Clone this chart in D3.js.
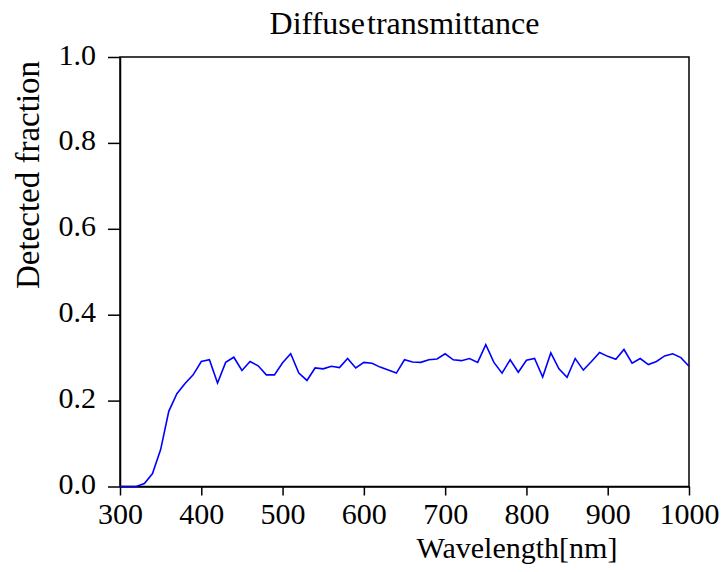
<!DOCTYPE html>
<html>
<head>
<meta charset="utf-8">
<script src="https://cdn.jsdelivr.net/npm/d3@7"></script>
<style>
  text { font-family: "Times New Roman", Times, "Liberation Serif", Tinos, serif; }
</style>
</head>
<body style="margin:0">
<svg id="chart" width="723" height="572" font-family="Times New Roman, Times, Liberation Serif, serif"></svg>
<script>
const wavelengths = d3.range(300, 1001, 10);
const detectedFraction = [
  0, 0, 0, 0.007, 0.03, 0.086, 0.175, 0.216, 0.24, 0.26,
  0.291, 0.295, 0.241, 0.289, 0.301, 0.27, 0.291, 0.281, 0.26, 0.26,
  0.288, 0.309, 0.264, 0.247, 0.276, 0.274, 0.28, 0.277, 0.298, 0.276,
  0.289, 0.287, 0.278, 0.271, 0.264, 0.295, 0.29, 0.289, 0.295, 0.297,
  0.309, 0.295, 0.293, 0.298, 0.289, 0.33, 0.289, 0.264, 0.295, 0.266,
  0.294, 0.298, 0.255, 0.311, 0.274, 0.254, 0.298, 0.271, 0.291, 0.312,
  0.303, 0.296, 0.319, 0.287, 0.298, 0.284, 0.291, 0.304, 0.309, 0.3,
  0.28
];
const xTicks = [300, 400, 500, 600, 700, 800, 900, 1000];
const yTicks = [0, 0.2, 0.4, 0.6, 0.8, 1.0];
const titleText = "Diffuse transmittance";
const xLabel = "Wavelength[nm]";
const yLabel = "Detected fraction";

const serifStack = "'Times New Roman', Times, 'Liberation Serif', Tinos, serif";
const svg = d3.select("#chart").style("display", "block");
const mLeft = 120, mRight = 689, mTop = 57, mBottom = 486.5;

const x = d3.scaleLinear().domain([300, 1000]).range([mLeft, mRight]);
const y = d3.scaleLinear().domain([0, 1]).range([mBottom, mTop]);

// frame
svg.append("rect")
  .attr("x", mLeft).attr("y", mTop)
  .attr("width", mRight - mLeft).attr("height", mBottom - mTop)
  .attr("fill", "none").attr("stroke", "#000").attr("stroke-width", 1.5);

// x axis
const xAxis = svg.append("g")
  .attr("transform", `translate(0,${mBottom})`)
  .call(d3.axisBottom(x).tickValues(xTicks).tickFormat(d3.format("d")).tickSize(9).tickSizeOuter(0));
xAxis.attr("font-family", serifStack).attr("font-size", 30);
xAxis.select(".domain").attr("stroke-width", 1.5);
xAxis.selectAll(".tick line").attr("stroke-width", 1.5);
xAxis.selectAll(".tick text")
  .attr("y", 37).attr("dy", 0)
  .style("font-family", serifStack)
  .style("font-size", "30px")
  .attr("fill", "#000");

// y axis
const yAxis = svg.append("g")
  .attr("transform", `translate(${mLeft},0)`)
  .call(d3.axisLeft(y).tickValues(yTicks).tickFormat(d3.format(".1f")).tickSize(12).tickSizeOuter(0));
yAxis.attr("font-family", serifStack).attr("font-size", 30);
yAxis.select(".domain").attr("stroke-width", 1.5);
yAxis.selectAll(".tick line").attr("stroke-width", 1.5);
yAxis.selectAll(".tick text")
  .attr("x", -24).attr("dy", 7)
  .style("font-family", serifStack)
  .style("font-size", "30px")
  .attr("fill", "#000");

// line
const line = d3.line()
  .x((d, i) => x(wavelengths[i]))
  .y(d => y(d));
svg.append("path")
  .datum(detectedFraction)
  .attr("fill", "none")
  .attr("stroke", "#0000ff")
  .attr("stroke-width", 1.6)
  .attr("d", line);

// title
svg.append("text")
  .attr("x", (mLeft + mRight) / 2).attr("y", 34)
  .attr("text-anchor", "middle")
  .style("font-family", serifStack)
  .style("font-size", "32px")
  .style("word-spacing", "-6px")
  .attr("fill", "#000")
  .text(titleText);

// x label
svg.append("text")
  .attr("x", 517).attr("y", 558)
  .attr("text-anchor", "middle")
  .style("font-family", serifStack)
  .style("font-size", "30px")
  .attr("fill", "#000")
  .text(xLabel);

// y label
svg.append("text")
  .attr("transform", "translate(39,175) rotate(-90)")
  .attr("text-anchor", "middle")
  .style("font-family", serifStack)
  .style("font-size", "33px")
  .attr("fill", "#000")
  .text(yLabel);
</script>
</body>
</html>
